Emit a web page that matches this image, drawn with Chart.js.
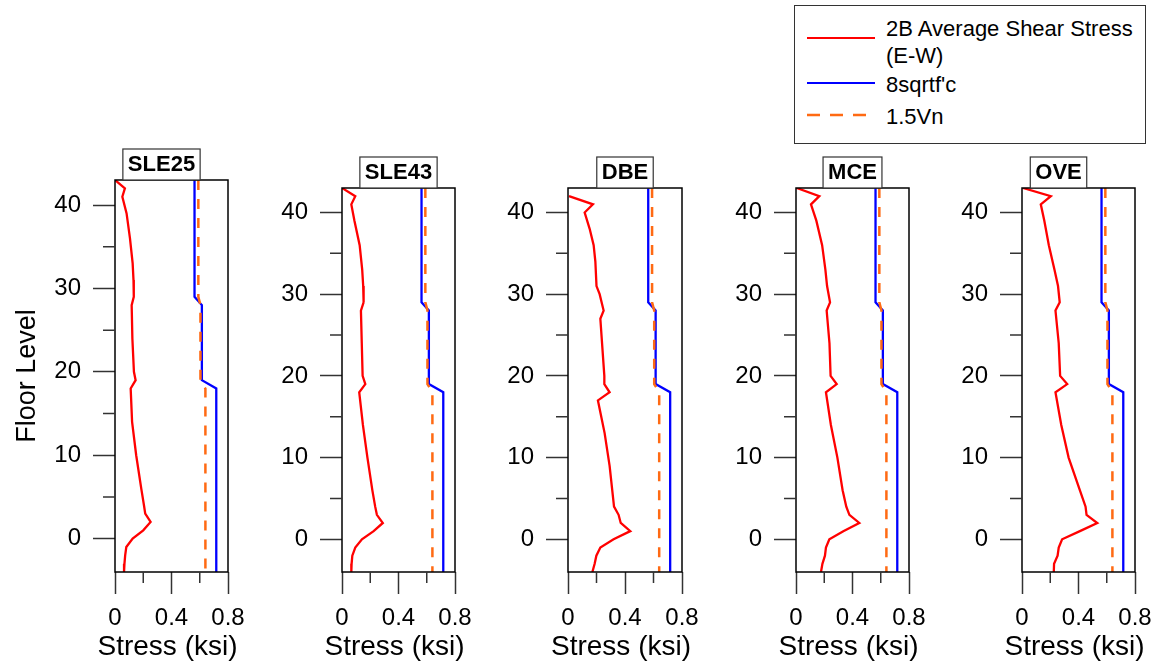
<!DOCTYPE html>
<html>
<head>
<meta charset="utf-8">
<script src="https://cdn.jsdelivr.net/npm/chart.js"></script>
<style>
  body { margin: 0; background: #fff; }
  #wrap { position: relative; width: 1159px; height: 669px; overflow: hidden; font-family: "Liberation Sans", Arial, sans-serif; }
  #wrap canvas { position: absolute; }
  #legend { position: absolute; left: 794px; top: 5px; width: 352px; height: 139px; border: 1.5px solid #333; box-sizing: border-box; }
  .lg-text { position: absolute; left: 91px; font-size: 22px; line-height: 27px; color: #000; white-space: nowrap; }
  .lg-line { position: absolute; left: 12px; }
</style>
</head>
<body>
<div id="wrap">
  <div id="legend">
    <svg class="lg-line" style="top:29px" width="68" height="6"><line x1="0" y1="3" x2="68" y2="3" stroke="#ff0000" stroke-width="2"/></svg>
    <div class="lg-text" style="top:9px">2B Average Shear Stress<br>(E-W)</div>
    <svg class="lg-line" style="top:74px" width="68" height="6"><line x1="0" y1="3" x2="68" y2="3" stroke="#0000ff" stroke-width="2"/></svg>
    <div class="lg-text" style="top:65px">8sqrtf'c</div>
    <svg class="lg-line" style="top:106px" width="68" height="6"><line x1="0" y1="3" x2="68" y2="3" stroke="#ff6a13" stroke-width="2.5" stroke-dasharray="13,10"/></svg>
    <div class="lg-text" style="top:97px">1.5Vn</div>
  </div>
</div>
<script>
// panels (load cases)
var panelNames = ["SLE25", "SLE43", "DBE", "MCE", "OVE"];
var xAxisTitle = "Stress (ksi)";
var yAxisTitle = "Floor Level";

// floor levels where the demand curves were read
var floorLevels = [43, 42, 41, 39, 36, 33, 31, 29, 28, 24, 20, 19, 18, 14, 10, 6, 4, 3, 2, 1, 0, -1, -2, -3, -4];
var dbeFloorLevels = [42, 41, 40, 38, 36, 34, 31, 30, 28, 27, 20, 19, 18, 17, 13, 9, 4, 3, 2, 1, 0, -1, -2, -3, -4];

// 2B average shear stress (E-W), ksi
var stressSLE25 = [0, 0.07, 0.052, 0.082, 0.106, 0.125, 0.131, 0.133, 0.118, 0.123, 0.134, 0.146, 0.111, 0.121, 0.15, 0.186, 0.205, 0.214, 0.252, 0.2, 0.125, 0.08, 0.072, 0.067, 0.064];
var stressSLE43 = [0, 0.094, 0.066, 0.088, 0.125, 0.143, 0.15, 0.153, 0.134, 0.14, 0.146, 0.165, 0.122, 0.148, 0.18, 0.215, 0.235, 0.247, 0.289, 0.224, 0.141, 0.094, 0.073, 0.068, 0.066];
var stressDBE = [0.007, 0.175, 0.117, 0.152, 0.18, 0.192, 0.2, 0.222, 0.25, 0.227, 0.255, 0.255, 0.292, 0.21, 0.257, 0.292, 0.323, 0.355, 0.37, 0.437, 0.32, 0.227, 0.199, 0.187, 0.171];
var stressMCE = [0.005, 0.165, 0.106, 0.144, 0.185, 0.208, 0.22, 0.241, 0.217, 0.237, 0.245, 0.288, 0.212, 0.247, 0.293, 0.33, 0.356, 0.378, 0.448, 0.335, 0.236, 0.212, 0.205, 0.187, 0.177];
var stressOVE = [0.007, 0.204, 0.133, 0.158, 0.19, 0.23, 0.255, 0.267, 0.237, 0.26, 0.27, 0.32, 0.237, 0.278, 0.33, 0.41, 0.45, 0.457, 0.533, 0.41, 0.284, 0.26, 0.252, 0.227, 0.225];

// capacity lines, same in every panel
var capacityFloors = [43, 29, 28, 19, 18, -4];
var stress8sqrtfc = [0.563, 0.563, 0.615, 0.615, 0.717, 0.717];
var stress15Vn = [0.59, 0.59, 0.605, 0.605, 0.64, 0.64];

// ticks
var xTickValues = [0, 0.4, 0.8];
var xMinorTicks = [0.2, 0.6];
var yTickValues = [0, 10, 20, 30, 40];
var yMinorTicks = [5, 15, 25, 35];

// layout of each plot box on the page
var panelBoxes = [
  { left: 115, top: 180, width: 113, height: 392, shift: -10 },
  { left: 342, top: 188, width: 113, height: 384, shift: 0 },
  { left: 568, top: 188, width: 114, height: 384, shift: 0 },
  { left: 796, top: 188, width: 113, height: 384, shift: 0 },
  { left: 1022, top: 188, width: 113, height: 384, shift: -20 }
];
var Y_AXIS_W = 115, TOP_PAD = 40, RIGHT_PAD = 40, X_AXIS_H = 97;

var FONT = '"Liberation Sans", Arial, sans-serif';
Chart.defaults.font.family = FONT;
Chart.defaults.color = "#000";

function toPoints(xs, ys) {
  return xs.map(function (v, i) { return { x: v, y: ys[i] }; });
}

var panelDecor = {
  id: "panelDecor",
  afterDraw: function (chart, args, opts) {
    var ctx = chart.ctx, a = chart.chartArea;
    var xs = chart.scales.x, ys = chart.scales.y;
    var cx = (a.left + a.right) / 2;
    ctx.save();
    ctx.strokeStyle = "#000";
    ctx.lineWidth = 1.5;
    ctx.strokeRect(a.left, a.top, a.right - a.left, a.bottom - a.top);
    ctx.strokeStyle = "#333";
    ctx.beginPath();
    xMinorTicks.forEach(function (v) {
      var px = xs.getPixelForValue(v);
      ctx.moveTo(px, a.bottom);
      ctx.lineTo(px, a.bottom + 11);
    });
    yMinorTicks.forEach(function (v) {
      var py = ys.getPixelForValue(v);
      ctx.moveTo(a.left, py);
      ctx.lineTo(a.left - 12, py);
    });
    ctx.stroke();
    // x axis title (drawn here so it is not squeezed to the plot width)
    ctx.fillStyle = "#000";
    ctx.textAlign = "center";
    ctx.textBaseline = "middle";
    ctx.font = "28px " + FONT;
    ctx.fillText(xAxisTitle, cx - 4, a.bottom + 75);
    // boxed panel title
    ctx.font = "bold 22px " + FONT;
    var w = ctx.measureText(opts.text).width + 10;
    var tx = cx + (opts.shift || 0);
    ctx.fillStyle = "#fff";
    ctx.fillRect(tx - w / 2, a.top - 31, w, 31);
    ctx.strokeStyle = "#333";
    ctx.lineWidth = 1.2;
    ctx.strokeRect(tx - w / 2, a.top - 31, w, 31);
    ctx.fillStyle = "#000";
    ctx.fillText(opts.text, tx, a.top - 15);
    ctx.restore();
  }
};

var demand = [
  toPoints(stressSLE25, floorLevels),
  toPoints(stressSLE43, floorLevels),
  toPoints(stressDBE, dbeFloorLevels),
  toPoints(stressMCE, floorLevels),
  toPoints(stressOVE, floorLevels)
];

var wrap = document.getElementById("wrap");
panelNames.forEach(function (name, i) {
  var b = panelBoxes[i];
  var c = document.createElement("canvas");
  var cw = Y_AXIS_W + b.width + RIGHT_PAD;
  var ch = TOP_PAD + b.height + X_AXIS_H;
  c.width = cw; c.height = ch;
  c.style.width = cw + "px"; c.style.height = ch + "px";
  c.style.left = (b.left - Y_AXIS_W) + "px";
  c.style.top = (b.top - TOP_PAD) + "px";
  wrap.appendChild(c);

  new Chart(c, {
    type: "scatter",
    data: {
      datasets: [
        { label: "2B Average Shear Stress (E-W)", data: demand[i], showLine: true, borderColor: "#ff0000", borderWidth: 2.3, pointRadius: 0, order: 0 },
        { label: "1.5Vn", data: toPoints(stress15Vn, capacityFloors), showLine: true, borderColor: "#ff6a13", borderWidth: 2.5, borderDash: [10, 9], pointRadius: 0, order: 1 },
        { label: "8sqrtf'c", data: toPoints(stress8sqrtfc, capacityFloors), showLine: true, borderColor: "#0000ff", borderWidth: 2.3, pointRadius: 0, order: 2 }
      ]
    },
    options: {
      responsive: false,
      animation: false,
      layout: { padding: { left: 0, top: TOP_PAD, right: RIGHT_PAD, bottom: 0 } },
      plugins: {
        legend: { display: false },
        tooltip: { enabled: false },
        panelDecor: { text: name, shift: b.shift }
      },
      scales: {
        x: {
          type: "linear", min: 0, max: 0.8,
          afterBuildTicks: function (s) { s.ticks = xTickValues.map(function (v) { return { value: v }; }); },
          afterFit: function (s) { s.height = X_AXIS_H; },
          ticks: { font: { size: 24 }, color: "#000", padding: 10, maxRotation: 0, autoSkip: false,
            callback: function (v) { return String(v); } },
          grid: { drawOnChartArea: false, tickLength: 22, tickColor: "#333", tickWidth: 1.5 },
          border: { display: false },
          title: { display: false }
        },
        y: {
          type: "linear", min: -4, max: 43,
          afterBuildTicks: function (s) { s.ticks = yTickValues.map(function (v) { return { value: v }; }); },
          afterFit: function (s) { s.width = Y_AXIS_W; },
          ticks: { font: { size: 24 }, color: "#000", padding: 12, autoSkip: false },
          grid: { drawOnChartArea: false, tickLength: 22, tickColor: "#333", tickWidth: 1.5 },
          border: { display: false },
          title: { display: i === 0, text: yAxisTitle, font: { size: 27 }, color: "#000", padding: { top: 11, bottom: 0 } }
        }
      }
    },
    plugins: [panelDecor]
  });
});
</script>
</body>
</html>
